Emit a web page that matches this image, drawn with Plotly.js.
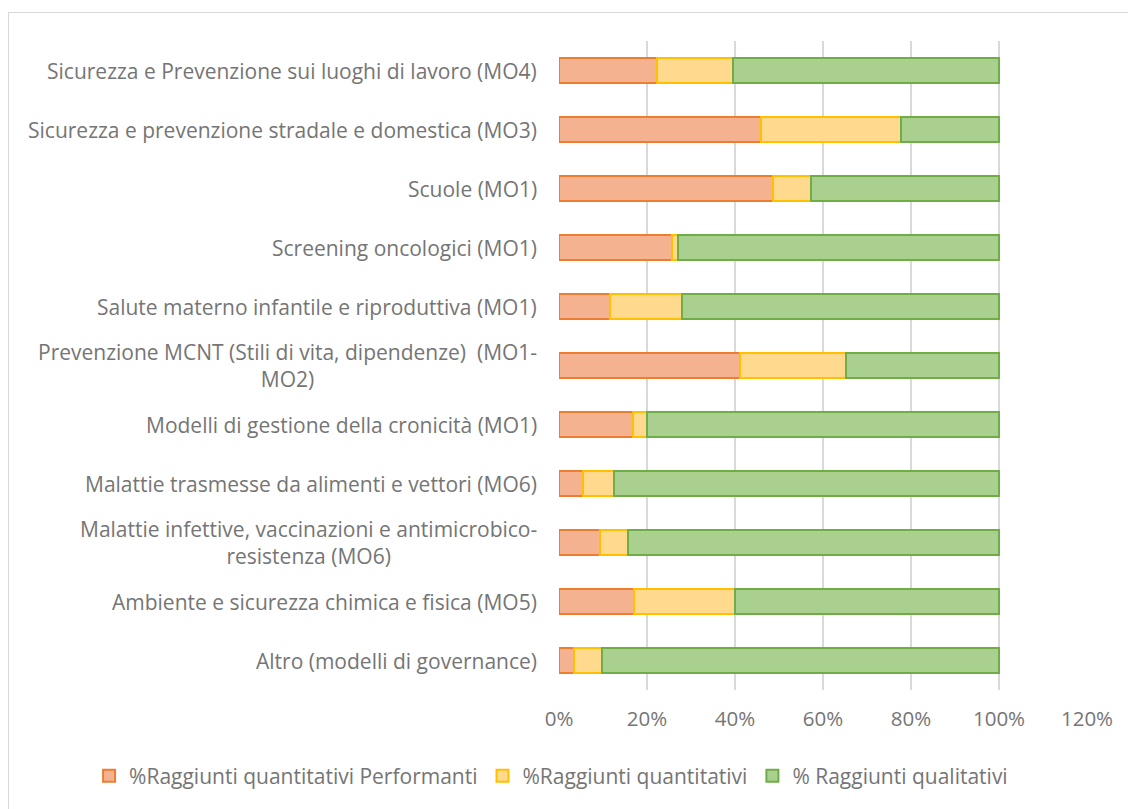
<!DOCTYPE html>
<html>
<head>
<meta charset="utf-8">
<script src="https://cdn.plot.ly/plotly-3.0.1.min.js"></script>
<style>
  html, body { margin: 0; padding: 0; background: #ffffff; }
  #wrap { position: relative; width: 1128px; height: 809px; overflow: hidden; }
  #frame { position: absolute; left: 8px; top: 12px; width: 1200px; height: 900px; border: 1px solid #D9D9D9; box-sizing: border-box; }
  #chart { position: absolute; left: 0; top: 0; width: 1128px; height: 809px; }
</style>
</head>
<body>
<div id="wrap">
  <div id="frame"></div>
  <div id="chart"></div>
</div>
<script>
// Categories, top to bottom
const categories = [
  "Sicurezza e Prevenzione sui luoghi di lavoro (MO4)",
  "Sicurezza e prevenzione stradale e domestica (MO3)",
  "Scuole (MO1)",
  "Screening oncologici (MO1)",
  "Salute materno infantile e riproduttiva (MO1)",
  "Prevenzione MCNT (Stili di vita, dipendenze)  (MO1-<br>MO2)",
  "Modelli di gestione della cronicità (MO1)",
  "Malattie trasmesse da alimenti e vettori (MO6)",
  "Malattie infettive, vaccinazioni e antimicrobico-<br>resistenza (MO6)",
  "Ambiente e sicurezza chimica e fisica (MO5)",
  "Altro (modelli di governance)"
];
const seriesNames = [
  "%Raggiunti quantitativi Performanti",
  "%Raggiunti quantitativi",
  "% Raggiunti qualitativi"
];
const performanti = [0.222, 0.459, 0.486, 0.256, 0.116, 0.411, 0.169, 0.055, 0.094, 0.171, 0.033];
const quantitativi = [0.173, 0.318, 0.087, 0.014, 0.164, 0.241, 0.030, 0.069, 0.063, 0.229, 0.065];
const qualitativi = [0.605, 0.223, 0.427, 0.730, 0.720, 0.348, 0.801, 0.876, 0.843, 0.600, 0.902];
const xTickVals = [0, 0.2, 0.4, 0.6, 0.8, 1.0, 1.2];
const xTickText = ["0%", "20%", "40%", "60%", "80%", "100%", "120%"];

const fills = ["#F5B291", "#FFD98D", "#A9D08E"];
const borders = ["#ED7D31", "#FFC000", "#70AD47"];
const values = [performanti, quantitativi, qualitativi];

const traces = values.map((v, i) => ({
  type: "bar",
  orientation: "h",
  name: seriesNames[i],
  x: v,
  y: categories,
  marker: { color: fills[i], line: { color: borders[i], width: 2 } },
  hoverinfo: "x+y+name"
}));

const textGray = "#757575";
const labelFont = { family: "Open Sans, sans-serif", size: 21, color: textGray };

const annotations = categories.map(c => ({
  xref: "paper", yref: "y",
  x: 0, y: c,
  xanchor: "right", yanchor: "middle",
  xshift: -20,
  align: "center",
  text: c,
  showarrow: false,
  font: labelFont
}));

const layout = {
  width: 1128, height: 809,
  paper_bgcolor: "rgba(0,0,0,0)",
  plot_bgcolor: "rgba(0,0,0,0)",
  barmode: "stack",
  bargap: 0.59,
  margin: { l: 559, r: 41, t: 41, b: 119, autoexpand: false },
  showlegend: true,
  legend: {
    orientation: "h",
    xref: "paper", x: -0.89, xanchor: "left",
    yref: "paper", y: -0.1325, yanchor: "middle",
    font: { family: "Open Sans, sans-serif", size: 21, color: textGray },
    traceorder: "normal",
    itemclick: false
  },
  xaxis: {
    range: [0, 1.2],
    tickvals: xTickVals,
    ticktext: xTickText,
    showgrid: true,
    gridcolor: "#D9D9D9",
    gridwidth: 2,
    zeroline: false,
    showline: false,
    ticks: "",
    ticklabelstandoff: 14,
    tickfont: { family: "Open Sans, sans-serif", size: 20.5, color: textGray },
    fixedrange: true
  },
  yaxis: {
    type: "category",
    autorange: "reversed",
    showticklabels: false,
    showgrid: false,
    zeroline: false,
    showline: false,
    ticks: "",
    fixedrange: true
  },
  annotations: annotations
};

Plotly.newPlot("chart", traces, layout, { displayModeBar: false });
</script>
</body>
</html>
